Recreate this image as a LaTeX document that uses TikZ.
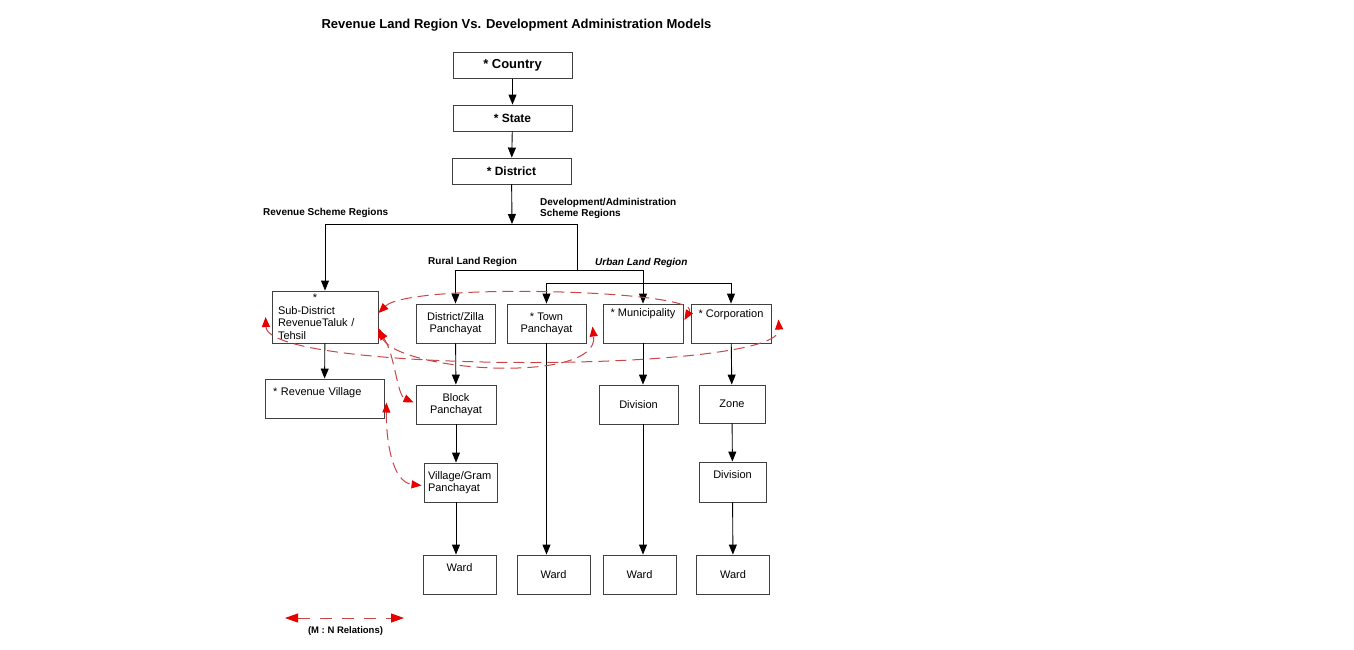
\documentclass[tikz,border=0pt]{standalone}
\usepackage{fontspec}
\setmainfont{Liberation Sans}
\usetikzlibrary{arrows.meta}
\definecolor{mnline}{RGB}{200,70,70}
\definecolor{mnhead}{RGB}{230,0,0}

\begin{document}
\begin{tikzpicture}[x=1pt, y=-1pt,
	box/.style={draw=black!75, line width=0.9pt, inner sep=3pt, align=center, font=\fontsize{11}{12}\selectfont},
	top/.style={draw=black!75, line width=0.9pt, minimum width=119pt, minimum height=26pt, font=\bfseries\fontsize{12}{14}\selectfont},
	lbl/.style={font=\bfseries\fontsize{10}{11}\selectfont, inner sep=0pt},
	arr/.style={-{Triangle[width=8pt,length=10pt]}, line width=0.9pt},
	mn/.style={draw=mnline, line width=1pt, dash pattern=on 11pt off 6pt, {Triangle[width=8pt,length=10pt,color=mnhead]}-{Triangle[width=8pt,length=10pt,color=mnhead]}}]
	\useasboundingbox (0,0) rectangle (1354,649);

	\node[font=\bfseries\fontsize{13}{15}\selectfont] (title) at (516.5,25) {Revenue Land Region Vs. Development Administration Models};

	\node[top, font=\bfseries\fontsize{13}{15}\selectfont] (country) at (512.5,65.5) {* Country};
	\node[top] (state) at (512.5,118) {* State};
	\node[top] (district) at (511.5,171) {* District};

	\node[lbl, anchor=west] (revlbl) at (263,212.5) {Revenue Scheme Regions};
	\node[lbl, anchor=north west, align=left] (devlbl) at (540,198.5) {Development/Administration\\Scheme Regions};
	\node[lbl, anchor=west] (rurallbl) at (428,262) {Rural Land Region};
	\node[lbl, anchor=west, font=\bfseries\itshape\fontsize{10}{11}\selectfont] (urbanlbl) at (595,262.5) {Urban Land Region};

	\node[box, minimum width=106pt, minimum height=52pt, text width=94pt, inner xsep=6pt, inner ysep=1pt, align=left, font=\fontsize{11}{12.5}\selectfont] (subd) at (325,317) {\makebox[74pt]{*}\\Sub-District\\RevenueTaluk /\\Tehsil};
	\node[box, minimum width=79pt, minimum height=39pt] (dzp) at (455.5,323.5) {District/Zilla\\Panchayat};
	\node[box, minimum width=79pt, minimum height=39pt] (tp) at (546.5,323.5) {* Town\\Panchayat};
	\node[box, minimum width=80pt, minimum height=39pt, text depth=21pt] (muni) at (643,323.5) {* Municipality};
	\node[box, minimum width=80pt, minimum height=39pt, text depth=19pt] (corp) at (731,323.5) {* Corporation};

	\node[box, minimum width=119pt, minimum height=39pt, text width=103pt, inner xsep=8pt, align=left, text depth=13pt] (rv) at (324.5,398.5) {* Revenue Village};
	\node[box, minimum width=80pt, minimum height=39pt] (bp) at (456,404.5) {Block\\Panchayat};
	\node[box, minimum width=73pt, minimum height=39pt, text width=65pt, inner xsep=4pt, align=left] (vgp) at (460.5,482.5) {Village/Gram\\Panchayat};
	\node[box, minimum width=79pt, minimum height=39pt] (div1) at (638.5,404.5) {Division};
	\node[box, minimum width=66pt, minimum height=38pt] (zone) at (732,404) {Zone};
	\node[box, minimum width=67pt, minimum height=40pt, text depth=14pt] (div2) at (732.5,482) {Division};

	\node[box, minimum width=73pt, minimum height=39pt, text depth=13pt] (ward1) at (459.5,574.5) {Ward};
	\foreach \n/\x in {ward2/553.5, ward3/639.5, ward4/733}
		\node[box, minimum width=73pt, minimum height=39pt] (\n) at (\x,574.5) {Ward};

	\draw[arr] (country) -- (state);
	\draw[arr] (state) -- (district);
	\coordinate (split) at (512,224);
	\coordinate (devsplit) at (577,224);
	\draw[arr] (district) -- (split);
	\draw[line width=0.9pt] (subd.north |- split) -- (devsplit) -- ++(0,46) coordinate (landsplit);
	\draw[arr] (subd.north |- split) -- (subd.north);
	\draw[line width=0.9pt] (dzp.north |- landsplit) -- (muni.north |- landsplit);
	\draw[arr] (dzp.north |- landsplit) -- (dzp.north);
	\draw[arr] (muni.north |- landsplit) -- (muni.north);
	\coordinate (urbrow) at (0,283);
	\draw[line width=0.9pt] (tp.north |- urbrow) -- (corp.north |- urbrow);
	\draw[arr] (tp.north |- urbrow) -- (tp.north);
	\draw[arr] (corp.north |- urbrow) -- (corp.north);

	\draw[arr] (subd) -- (rv);
	\draw[arr] (dzp) -- (bp);
	\draw[arr] (bp.south) -- (bp.south |- vgp.north);
	\draw[arr] (bp.south |- vgp.south) -- (bp.south |- ward1.north);
	\draw[arr] (tp.south) -- (tp.south |- ward2.north);
	\draw[arr] (muni.south) -- (muni.south |- div1.north);
	\draw[arr] (muni.south |- div1.south) -- (muni.south |- ward3.north);
	\draw[arr] (corp) -- (zone);
	\draw[arr] (zone) -- (div2);
	\draw[arr] (div2) -- (ward4);

	% M : N relations
	\draw[mn] ([yshift=4pt]subd.east) .. controls (410,282) and (702,290) .. ([xshift=1pt,yshift=3.5pt]muni.east);
	\draw[mn] ([xshift=-6pt]subd.west) .. controls (268,374) and (782,374) .. ([xshift=7pt,yshift=4pt]corp.east);
	\draw[mn] ([yshift=-11pt]subd.east) .. controls (395,372) and (600,385) .. ([xshift=6pt,yshift=-3pt]tp.east);
	\draw[mn] ([yshift=-13pt]subd.east) .. controls (395,355) and (397,395) .. ([xshift=-2pt,yshift=2pt]bp.west);
	\draw[mn] ([xshift=2pt,yshift=-4pt]rv.east) .. controls (386,440) and (392,482) .. ([xshift=-2pt,yshift=-3pt]vgp.west);

	\coordinate (mnl) at (285,618);
	\coordinate (mnr) at (404,618);
	\draw[mn, dash pattern=on 12pt off 10pt, {Triangle[width=9pt,length=13pt,color=mnhead]}-{Triangle[width=9pt,length=13pt,color=mnhead]}] (mnl) -- (mnr);
	\node[lbl, font=\bfseries\fontsize{9.5}{11}\selectfont] (mntxt) at (345.5,631) {(M : N Relations)};
\end{tikzpicture}
\end{document}
